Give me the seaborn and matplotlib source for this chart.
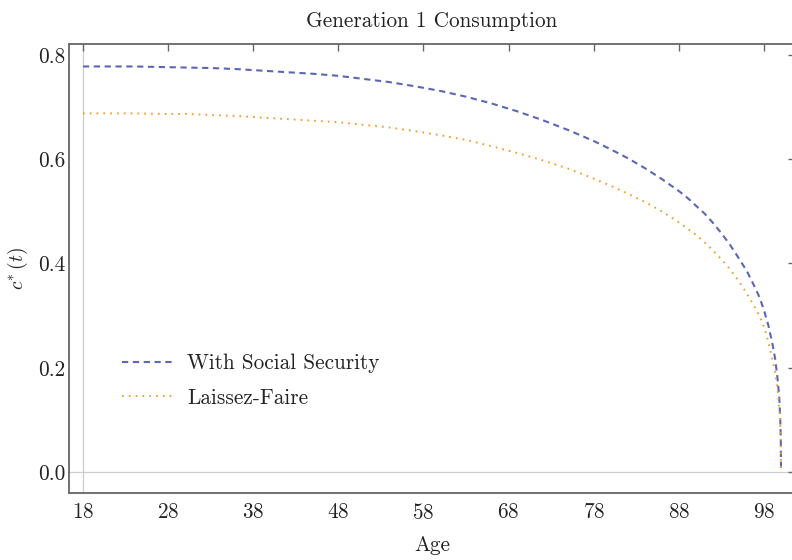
import numpy as np
import pandas as pd
import seaborn as sns
import matplotlib
matplotlib.use('Agg')
import matplotlib.pyplot as plt
from matplotlib.ticker import MultipleLocator, FixedLocator

# Consumption path
ages = [18, 21, 24, 27, 30, 33, 36, 39, 42, 45, 48, 51, 54, 57, 60, 63, 66, 69, 72, 75,
        78, 80, 82, 84, 86, 88, 89, 90, 91, 92, 93, 94, 95, 96, 97, 97.5, 98, 98.5,
        99, 99.3, 99.6, 99.8, 99.9, 99.97, 100]
with_ss = [0.778, 0.778, 0.778, 0.777, 0.776, 0.775, 0.773, 0.770, 0.767, 0.764,
           0.760, 0.754, 0.748, 0.740, 0.731, 0.720, 0.707, 0.692, 0.675, 0.656,
           0.635, 0.619, 0.602, 0.583, 0.562, 0.539, 0.526, 0.511, 0.496, 0.478,
           0.458, 0.436, 0.411, 0.385, 0.352, 0.334, 0.310, 0.282, 0.245, 0.218,
           0.178, 0.140, 0.106, 0.065, 0.0]
laissez_faire = [0.688, 0.688, 0.688, 0.687, 0.687, 0.685, 0.683, 0.680, 0.677, 0.674,
                 0.671, 0.666, 0.661, 0.654, 0.646, 0.637, 0.625, 0.612, 0.598, 0.582,
                 0.563, 0.549, 0.534, 0.518, 0.500, 0.479, 0.467, 0.455, 0.441, 0.425,
                 0.408, 0.389, 0.367, 0.342, 0.314, 0.298, 0.278, 0.250, 0.214, 0.192,
                 0.158, 0.120, 0.095, 0.055, 0.0]
x_ticks = [18, 28, 38, 48, 58, 68, 78, 88, 98]

df = pd.DataFrame({'Age': ages, 'With Social Security': with_ss, 'Laissez-Faire': laissez_faire})

sns.set_style('white')
plt.rcParams['font.family'] = 'serif'
plt.rcParams['font.serif'] = ['cmr10', 'DejaVu Serif']
plt.rcParams['mathtext.fontset'] = 'cm'
plt.rcParams['axes.unicode_minus'] = False
plt.rcParams['axes.formatter.use_mathtext'] = True

frame = '#666666'
txt = '#222222'
fs = 15.3

fig = plt.figure(figsize=(7.92, 5.6), dpi=100)
ax = fig.add_axes([69 / 792, 67 / 560, 726 / 792, 449 / 560])

ax.axvline(18, color='#cccccc', lw=0.9, zorder=0)
ax.axhline(0, color='#cccccc', lw=0.9, zorder=0)

sns.lineplot(data=df, x='Age', y='With Social Security', ax=ax, color='#5b67b6',
             lw=1.5, label='With Social Security', sort=False)
sns.lineplot(data=df, x='Age', y='Laissez-Faire', ax=ax, color='#f0a030',
             lw=1.4, label='Laissez-Faire', sort=False)
ax.lines[2].set_dashes((3.0, 2.2))
ax.lines[3].set_dashes((0.9, 2.6))
ax.lines[3].set_dash_capstyle('butt')

ax.set_xlim(16.36, 101.64)
ax.set_ylim(-0.0403, 0.8211)
ax.xaxis.set_major_locator(FixedLocator(x_ticks))
ax.yaxis.set_minor_locator(MultipleLocator(0.05))
ax.set_yticks([0.0, 0.2, 0.4, 0.6, 0.8])
ax.set_yticklabels(['0.0', '0.2', '0.4', '0.6', '0.8'])

for s in ax.spines.values():
    s.set_visible(True)
    s.set_color(frame)
    s.set_linewidth(1.3)
ax.tick_params(which='both', direction='in', top=True, right=True, color=frame,
               labelcolor=txt, labelsize=fs, width=1.0)
ax.tick_params(which='major', length=5)
ax.tick_params(axis='x', which='major', pad=7)
ax.tick_params(axis='y', which='major', pad=2.5)
ax.tick_params(which='minor', length=3, right=False)

ax.set_xlabel('Age', fontsize=fs, color=txt, labelpad=9)
ax.set_ylabel(r'$c^{*}\,(t)$', fontsize=14, color=txt, labelpad=6)
ax.set_title('Generation 1 Consumption', fontsize=fs, color=txt, pad=12)

leg = ax.legend(loc='upper left', bbox_to_anchor=(0.047, 0.353), frameon=False,
                fontsize=fs, handlelength=2.35, handletextpad=0.7, labelspacing=0.7,
                labelcolor=txt)

fig.savefig('out.png', dpi=100)
